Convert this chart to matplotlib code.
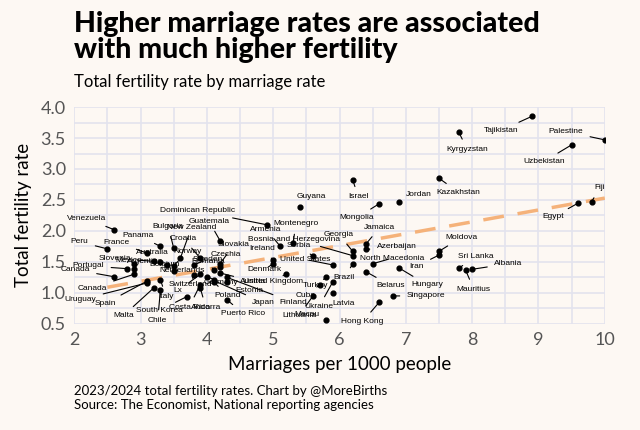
import matplotlib.pyplot as plt

countries = ["Venezuela", "Peru", "Canada", "Bulgaria", "Panama", "New Zealand", "France",
             "Australia", "Slovenia", "Norway", "Mexico", "Portugal", "Argentina", "Uruguay",
             "Spain", "Malta", "Chile", "Italy", "Netherlands", "Switzerland", "Lx", "Costa Rica",
             "South Korea", "Sweden", "Croatia", "Guatemala", "Romania", "Czechia", "Germany",
             "Poland", "Estonia", "Japan", "Andorra", "Puerto Rico", "Finland", "Austria",
             "Dominican Republic", "Armenia", "Montenegro", "Guyana", "Israel", "Slovakia",
             "Ireland", "Serbia", "Denmark", "United Kingdom", "Turkey", "Cuba", "Lithuania",
             "Latvia", "Macau", "Tajikistan", "Kyrgyzstan", "Palestine", "Uzbekistan",
             "Kazakhstan", "Jordan", "Mongolia", "Fiji", "Egypt", "Jamaica", "Georgia",
             "Bosnia and Herzegovina", "Azerbaijan", "Moldova", "Iran", "North Macedonia",
             "United States", "Brazil", "Belarus", "Hungary", "Sri Lanka", "Mauritius",
             "Albania", "Singapore", "Hong Kong", "Ukraine", "Belgium", "Canada "]
marriages = [2.6, 2.5, 2.6, 3.5, 3.3, 3.6, 3.1, 3.3, 3.2, 3.5, 2.9, 2.8, 2.9, 3.1,
             3.1, 3.2, 3.3, 3.3, 3.5, 3.8, 3.9, 3.9, 3.7, 3.8, 3.9, 4.2, 4.1, 4.2, 4.0,
             4.1, 4.3, 4.1, 3.9, 4.3, 4.3, 4.2, 4.9, 5.1, 5.3, 5.4, 6.2, 4.2,
             5.0, 5.6, 5.0, 5.2, 5.8, 5.7, 5.6, 5.9, 5.8, 8.9, 7.8, 10.0, 9.5,
             7.5, 6.9, 6.6, 9.8, 9.6, 6.4, 6.2, 6.2, 6.4, 7.5, 7.5, 6.5,
             5.9, 6.2, 6.4, 6.9, 7.8, 7.9, 8.0, 6.8, 6.6, 5.9, 3.4, 2.9]
fertility = [2.02, 1.71, 1.26, 1.72, 1.75, 1.56, 1.64, 1.49, 1.51, 1.44, 1.47, 1.39, 1.39, 1.16,
             1.19, 1.08, 1.05, 1.21, 1.36, 1.29, 1.30, 1.13, 0.94, 1.45, 1.56, 1.84, 1.37, 1.42, 1.26,
             1.18, 1.17, 1.20, 1.08, 0.89, 1.25, 1.32, 2.10, 1.76, 1.80, 2.38, 2.82, 1.47,
             1.53, 1.59, 1.47, 1.31, 1.25, 1.13, 0.95, 1.00, 0.56, 3.85, 3.59, 3.47, 3.39,
             2.85, 2.46, 2.44, 2.47, 2.45, 1.79, 1.67, 1.60, 1.70, 1.67, 1.61, 1.47,
             1.45, 1.47, 1.34, 1.40, 1.40, 1.37, 1.38, 0.95, 0.85, 1.18, 1.45, 1.30]
trend_x = [2.5, 10.0]
trend_y = [1.09, 2.53]

# label offsets in points (dx, dy)
offsets = {"Venezuela": (-20, 8), "Peru": (-20, 5), "Canada": (-28, 5), "Bulgaria": (-4, 16),
           "Panama": (-16, 8), "New Zealand": (8, 22), "France": (-22, 8), "Australia": (-6, 7),
           "Slovenia": (-28, 2), "Norway": (10, 10), "Mexico": (-4, 2), "Portugal": (-28, 2),
           "Argentina": (8, 5), "Uruguay": (-48, -12), "Spain": (-30, -16), "Malta": (-22, -20),
           "Chile": (-2, -22), "Italy": (4, -12), "Netherlands": (6, 0), "Switzerland": (-2, -7),
           "Lx": (-16, -12), "Costa Rica": (-8, -16), "South Korea": (-20, -10), "Sweden": (10, 4),
           "Croatia": (-12, 14), "Guatemala": (-8, 14), "Romania": (-4, 6), "Czechia": (4, 9),
           "Germany": (10, -4), "Poland": (10, -10), "Estonia": (16, -6), "Japan": (36, -16),
           "Andorra": (4, -14), "Puerto Rico": (12, -10), "Finland": (48, -18), "Austria": (24, -6),
           "Dominican Republic": (-50, 10), "Armenia": (-10, 12), "Montenegro": (2, 14),
           "Guyana": (8, 8), "Israel": (4, -12), "Slovakia": (10, 14), "Ireland": (-8, 8),
           "Serbia": (-10, 8), "Denmark": (-6, -4), "United Kingdom": (-10, -6),
           "Turkey": (-8, -6), "Cuba": (-10, -8), "Lithuania": (-10, -14), "Latvia": (8, -8),
           "Macau": (-14, 4), "Tajikistan": (-22, -10), "Kyrgyzstan": (6, -12),
           "Palestine": (-28, 6), "Uzbekistan": (-20, -12), "Kazakhstan": (14, -10),
           "Jordan": (14, 6), "Mongolia": (-16, -10), "Fiji": (6, 10), "Egypt": (-18, -10),
           "Jamaica": (10, 12), "Georgia": (-10, 12), "Bosnia and Herzegovina": (-42, 12),
           "Azerbaijan": (22, 2), "Moldova": (16, 10), "Iran": (-16, -8), "North Macedonia": (14, 4),
           "United States": (-20, 4), "Brazil": (-6, -10), "Belarus": (18, -10), "Hungary": (20, -12),
           "Sri Lanka": (12, 8), "Mauritius": (6, -14), "Albania": (26, 4), "Singapore": (24, 0),
           "Hong Kong": (-12, -14), "Ukraine": (-10, -18), "Belgium": (-2, 0), "Canada ": (-30, -10)}

BG = "#fdf8f3"
plt.rcParams["font.family"] = ["Lato", "DejaVu Sans"]
fig = plt.figure(figsize=(6.4, 4.3), dpi=100, facecolor=BG)
ax = fig.add_axes([0.116, 0.247, 0.829, 0.504], facecolor=BG)

ax.plot(trend_x, trend_y, color="#f5b27a", lw=2.5, dashes=(6, 4), zorder=2)
ax.scatter(marriages, fertility, s=12, color="black", zorder=3)
for name, mx, fy in zip(countries, marriages, fertility):
    dx, dy = offsets.get(name, (6, 6))
    ax.annotate(name.strip(), (mx, fy), xytext=(dx, dy), textcoords="offset points",
                fontsize=6, family="Liberation Sans", ha="center", va="center",
                arrowprops=dict(arrowstyle="-", color="black", lw=0.8, shrinkA=3, shrinkB=0),
                zorder=4)

ax.set_xlim(2, 10)
ax.set_ylim(0.5, 4.0)
ax.set_xticks(range(2, 11))
ax.set_yticks([0.5, 1.0, 1.5, 2.0, 2.5, 3.0, 3.5, 4.0])
ax.set_yticklabels(["0.5", "1.0", "1.5", "2.0", "2.5", "3.0", "3.5", "4.0"])
ax.set_xticks([x + 0.5 for x in range(2, 10)], minor=True)
ax.set_yticks([0.75 + 0.5 * i for i in range(7)], minor=True)
ax.grid(True, which="both", color="#e3e3ee", lw=1.2)
ax.set_axisbelow(True)
for s in ax.spines.values():
    s.set_visible(False)
ax.tick_params(which="both", length=0, labelsize=13, colors="#555555", pad=6)
ax.set_xlabel("Marriages per 1000 people", fontsize=13.5, labelpad=6)
ax.set_ylabel("Total fertility rate", fontsize=13.5, labelpad=6)

fig.text(0.115, 0.975, "Higher marriage rates are associated\nwith much higher fertility",
         fontsize=20.5, fontweight="black", va="top", linespacing=1.0)
fig.text(0.115, 0.79, "Total fertility rate by marriage rate", fontsize=12, va="bottom")
fig.text(0.115, 0.045, "2023/2024 total fertility rates. Chart by @MoreBirths\n"
         "Source: The Economist, National reporting agencies", fontsize=9.5, va="bottom",
         linespacing=1.2)

fig.savefig("out.png", dpi=100, facecolor=BG)
